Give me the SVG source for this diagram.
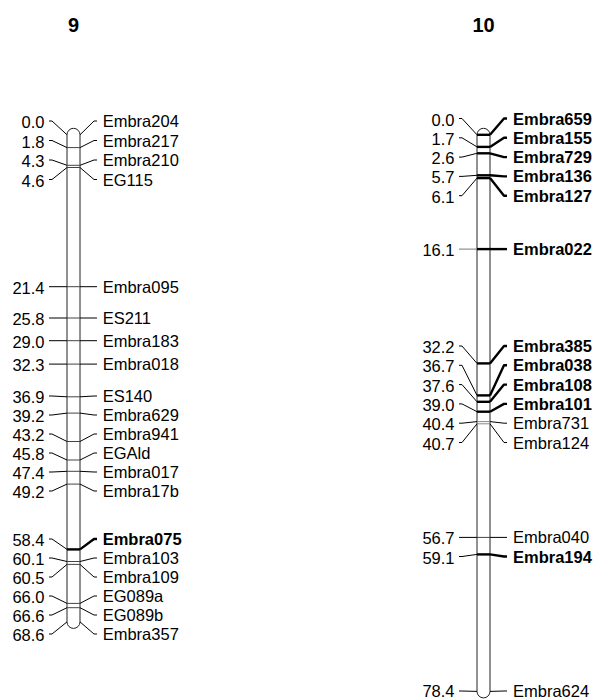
<svg xmlns="http://www.w3.org/2000/svg" width="594" height="700" viewBox="0 0 594 700">
<style>
.bg{fill:#fff}
.chr{fill:#fff;stroke:#222;stroke-width:1}
.mk{stroke:#444;stroke-width:1;fill:none}
.mb{stroke:#000;stroke-width:2.4;fill:none}
.cn{stroke:#000;stroke-width:1;fill:none}
.cb{stroke:#000;stroke-width:2.4;fill:none;stroke-linejoin:round}
.t{font-family:"Liberation Sans",Arial,sans-serif;font-size:20px;font-weight:bold;text-anchor:middle;fill:#000}
.n{font-family:"Liberation Sans",Arial,sans-serif;font-size:16.5px;text-anchor:end;fill:#000}
.l{font-family:"Liberation Sans",Arial,sans-serif;font-size:16.5px;fill:#000}
.b{font-weight:bold}
</style>
<rect class="bg" x="0" y="0" width="594" height="700"/>
<g id="chr9">
<text class="t" x="73.5" y="32">9</text>
<path class="chr" d="M67,134.8 A6.5,6.5 0 0 1 80,134.8 V621.9 A6.5,6.5 0 0 1 67,621.9 Z"/>
</g>
<g id="chr10">
<text class="t" x="483.5" y="32">10</text>
<path class="chr" d="M477,134.8 A6.5,6.5 0 0 1 490,134.8 V691.4 A6.5,6.5 0 0 1 477,691.4 Z"/>
</g>
<g id="connectors">
<path class="cn" d="M49,121 h3 L67,134.8 M80,134.8 L94,121 h3"/>
<path class="mk" d="M67,147.6 H80"/><path class="cn" d="M49,140.5 h3 L67,147.6 M80,147.6 L94,140.5 h3"/>
<path class="mk" d="M67,165.3 H80"/><path class="cn" d="M49,160 h3 L67,165.3 M80,165.3 L94,160 h3"/>
<path class="mk" d="M67,167.5 H80"/><path class="cn" d="M49,179.5 h3 L67,167.5 M80,167.5 L94,179.5 h3"/>
<path class="mk" d="M67,286.7 H80"/><path class="cn" d="M49,286.7 H67 M80,286.7 H97"/>
<path class="mk" d="M67,318 H80"/><path class="cn" d="M49,318 H67 M80,318 H97"/>
<path class="mk" d="M67,340.7 H80"/><path class="cn" d="M49,340.7 H67 M80,340.7 H97"/>
<path class="mk" d="M67,364.1 H80"/><path class="cn" d="M49,364.1 H67 M80,364.1 H97"/>
<path class="mk" d="M67,396.8 H80"/><path class="cn" d="M49,396 h3 L67,396.8 M80,396.8 L94,396 h3"/>
<path class="mk" d="M67,413.1 H80"/><path class="cn" d="M49,415 h3 L67,413.1 M80,413.1 L94,415 h3"/>
<path class="mk" d="M67,441.5 H80"/><path class="cn" d="M49,434 h3 L67,441.5 M80,441.5 L94,434 h3"/>
<path class="mk" d="M67,460 H80"/><path class="cn" d="M49,453 h3 L67,460 M80,460 L94,453 h3"/>
<path class="mk" d="M67,471.3 H80"/><path class="cn" d="M49,472 h3 L67,471.3 M80,471.3 L94,472 h3"/>
<path class="mk" d="M67,484.1 H80"/><path class="cn" d="M49,491 h3 L67,484.1 M80,484.1 L94,491 h3"/>
<path class="mb" d="M67,549.4 H80"/><path class="cn" d="M49,539 h3 L67,549.4"/><path class="cb" d="M80,549.4 L94,539 h3"/>
<path class="mk" d="M67,561.5 H80"/><path class="cn" d="M49,558 h3 L67,561.5 M80,561.5 L94,558 h3"/>
<path class="mk" d="M67,564.4 H80"/><path class="cn" d="M49,577 h3 L67,564.4 M80,564.4 L94,577 h3"/>
<path class="mk" d="M67,603.4 H80"/><path class="cn" d="M49,596 h3 L67,603.4 M80,603.4 L94,596 h3"/>
<path class="mk" d="M67,607.7 H80"/><path class="cn" d="M49,615 h3 L67,607.7 M80,607.7 L94,615 h3"/>
<path class="cn" d="M49,634 h3 L67,621.9 M80,621.9 L94,634 h3"/>
<path class="mb" d="M477,134.8 H490"/><path class="cn" d="M459,118.5 h3 L477,134.8"/><path class="cb" d="M490,134.8 L504,118.5 h3"/>
<path class="mb" d="M477,146.9 H490"/><path class="cn" d="M459,137.8 h3 L477,146.9"/><path class="cb" d="M490,146.9 L504,137.8 h3"/>
<path class="mb" d="M477,153.3 H490"/><path class="cn" d="M459,157.1 h3 L477,153.3"/><path class="cb" d="M490,153.3 L504,157.1 h3"/>
<path class="mb" d="M477,175.3 H490"/><path class="cn" d="M459,176.4 h3 L477,175.3"/><path class="cb" d="M490,175.3 L504,176.4 h3"/>
<path class="mb" d="M477,178.1 H490"/><path class="cn" d="M459,195.7 h3 L477,178.1"/><path class="cb" d="M490,178.1 L504,195.7 h3"/>
<path class="mb" d="M477,249.1 H490"/><path class="cn" d="M459,249.1 H477" style="stroke:#777"/><path class="cb" d="M490,249.1 H507"/>
<path class="mb" d="M477,363.4 H490"/><path class="cn" d="M459,346 h3 L477,363.4"/><path class="cb" d="M490,363.4 L504,346 h3"/>
<path class="mb" d="M477,395.4 H490"/><path class="cn" d="M459,365.3 h3 L477,395.4"/><path class="cb" d="M490,395.4 L504,365.3 h3"/>
<path class="mb" d="M477,401.8 H490"/><path class="cn" d="M459,384.6 h3 L477,401.8"/><path class="cb" d="M490,401.8 L504,384.6 h3"/>
<path class="mb" d="M477,411.7 H490"/><path class="cn" d="M459,403.9 h3 L477,411.7"/><path class="cb" d="M490,411.7 L504,403.9 h3"/>
<path class="mk" d="M477,421.6 H490" style="stroke:#888"/><path class="cn" d="M459,423.2 h3 L477,421.6 M490,421.6 L504,423.2 h3"/>
<path class="mk" d="M477,423.8 H490" style="stroke:#888"/><path class="cn" d="M459,442.5 h3 L477,423.8 M490,423.8 L504,442.5 h3"/>
<path class="mk" d="M477,537.4 H490"/><path class="cn" d="M459,537.4 H477 M490,537.4 H507"/>
<path class="mb" d="M477,554.4 H490"/><path class="cn" d="M459,556.5 h3 L477,554.4"/><path class="cb" d="M490,554.4 L504,556.5 h3"/>
<path class="cn" d="M459,691 h3 L477,691.4 M490,691.4 L504,691 h3"/>
</g>
<g id="m9-Embra204"><text class="n" x="44.5" y="128">0.0</text><text class="l" x="102.7" y="127">Embra204</text></g>
<g id="m9-Embra217"><text class="n" x="44.5" y="147.5">1.8</text><text class="l" x="102.7" y="146.5">Embra217</text></g>
<g id="m9-Embra210"><text class="n" x="44.5" y="167">4.3</text><text class="l" x="102.7" y="166">Embra210</text></g>
<g id="m9-EG115"><text class="n" x="44.5" y="186.5">4.6</text><text class="l" x="102.7" y="185.5">EG115</text></g>
<g id="m9-Embra095"><text class="n" x="44.5" y="293.7">21.4</text><text class="l" x="102.7" y="292.7">Embra095</text></g>
<g id="m9-ES211"><text class="n" x="44.5" y="325">25.8</text><text class="l" x="102.7" y="324">ES211</text></g>
<g id="m9-Embra183"><text class="n" x="44.5" y="347.7">29.0</text><text class="l" x="102.7" y="346.7">Embra183</text></g>
<g id="m9-Embra018"><text class="n" x="44.5" y="371.1">32.3</text><text class="l" x="102.7" y="370.1">Embra018</text></g>
<g id="m9-ES140"><text class="n" x="44.5" y="403">36.9</text><text class="l" x="102.7" y="402">ES140</text></g>
<g id="m9-Embra629"><text class="n" x="44.5" y="422">39.2</text><text class="l" x="102.7" y="421">Embra629</text></g>
<g id="m9-Embra941"><text class="n" x="44.5" y="441">43.2</text><text class="l" x="102.7" y="440">Embra941</text></g>
<g id="m9-EGAld"><text class="n" x="44.5" y="460">45.8</text><text class="l" x="102.7" y="459">EGAld</text></g>
<g id="m9-Embra017"><text class="n" x="44.5" y="479">47.4</text><text class="l" x="102.7" y="478">Embra017</text></g>
<g id="m9-Embra17b"><text class="n" x="44.5" y="498">49.2</text><text class="l" x="102.7" y="497">Embra17b</text></g>
<g id="m9-Embra075"><text class="n" x="44.5" y="546">58.4</text><text class="l b" x="102.7" y="545">Embra075</text></g>
<g id="m9-Embra103"><text class="n" x="44.5" y="565">60.1</text><text class="l" x="102.7" y="564">Embra103</text></g>
<g id="m9-Embra109"><text class="n" x="44.5" y="584">60.5</text><text class="l" x="102.7" y="583">Embra109</text></g>
<g id="m9-EG089a"><text class="n" x="44.5" y="603">66.0</text><text class="l" x="102.7" y="602">EG089a</text></g>
<g id="m9-EG089b"><text class="n" x="44.5" y="622">66.6</text><text class="l" x="102.7" y="621">EG089b</text></g>
<g id="m9-Embra357"><text class="n" x="44.5" y="641">68.6</text><text class="l" x="102.7" y="640">Embra357</text></g>
<g id="m10-Embra659"><text class="n" x="454.5" y="125.5">0.0</text><text class="l b" x="513" y="124.5">Embra659</text></g>
<g id="m10-Embra155"><text class="n" x="454.5" y="144.8">1.7</text><text class="l b" x="513" y="143.8">Embra155</text></g>
<g id="m10-Embra729"><text class="n" x="454.5" y="164.1">2.6</text><text class="l b" x="513" y="163.1">Embra729</text></g>
<g id="m10-Embra136"><text class="n" x="454.5" y="183.4">5.7</text><text class="l b" x="513" y="182.4">Embra136</text></g>
<g id="m10-Embra127"><text class="n" x="454.5" y="202.7">6.1</text><text class="l b" x="513" y="201.7">Embra127</text></g>
<g id="m10-Embra022"><text class="n" x="454.5" y="256.1">16.1</text><text class="l b" x="513" y="255.1">Embra022</text></g>
<g id="m10-Embra385"><text class="n" x="454.5" y="353">32.2</text><text class="l b" x="513" y="352">Embra385</text></g>
<g id="m10-Embra038"><text class="n" x="454.5" y="372.3">36.7</text><text class="l b" x="513" y="371.3">Embra038</text></g>
<g id="m10-Embra108"><text class="n" x="454.5" y="391.6">37.6</text><text class="l b" x="513" y="390.6">Embra108</text></g>
<g id="m10-Embra101"><text class="n" x="454.5" y="410.9">39.0</text><text class="l b" x="513" y="409.9">Embra101</text></g>
<g id="m10-Embra731"><text class="n" x="454.5" y="430.2">40.4</text><text class="l" x="513" y="429.2">Embra731</text></g>
<g id="m10-Embra124"><text class="n" x="454.5" y="449.5">40.7</text><text class="l" x="513" y="448.5">Embra124</text></g>
<g id="m10-Embra040"><text class="n" x="454.5" y="544.4">56.7</text><text class="l" x="513" y="543.4">Embra040</text></g>
<g id="m10-Embra194"><text class="n" x="454.5" y="563.5">59.1</text><text class="l b" x="513" y="562.5">Embra194</text></g>
<g id="m10-Embra624"><text class="n" x="454.5" y="697">78.4</text><text class="l" x="513" y="697">Embra624</text></g>
</svg>
